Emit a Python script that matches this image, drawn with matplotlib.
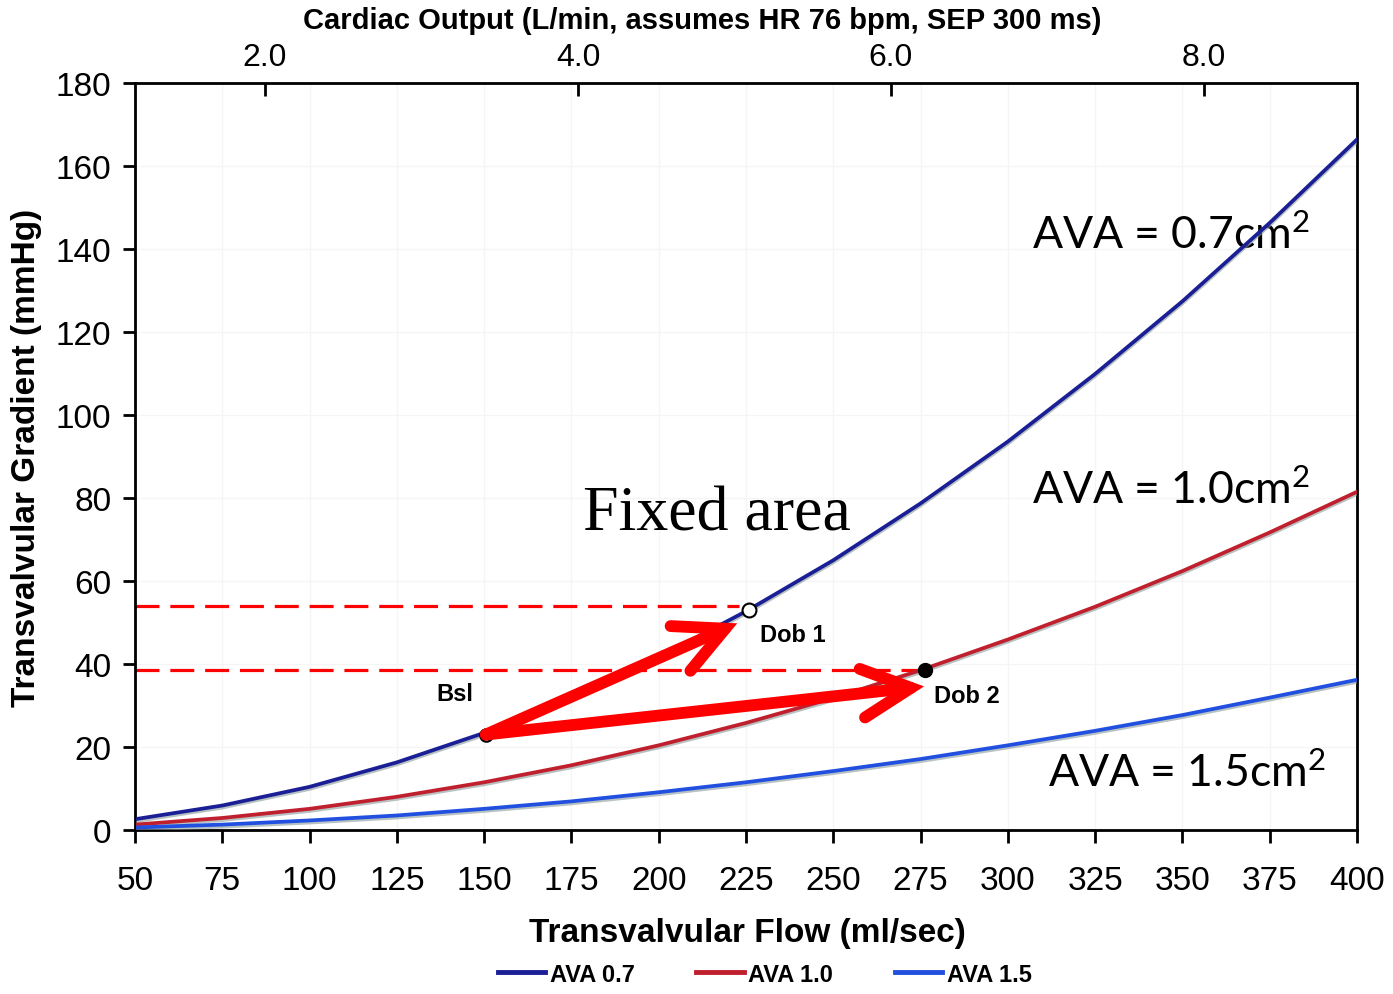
import matplotlib.pyplot as plt
import matplotlib.patheffects as pe
from matplotlib.lines import Line2D

# valores
flow = [50, 75, 100, 125, 150, 175, 200, 225, 250, 275, 300, 325, 350, 375, 400]
grad_07 = [2.6, 5.9, 10.4, 16.3, 23.4, 31.9, 41.6, 52.7, 65.0, 78.7, 93.6, 109.9, 127.4, 146.3, 166.4]
grad_10 = [1.3, 2.9, 5.1, 8.0, 11.5, 15.6, 20.4, 25.8, 31.8, 38.5, 45.9, 53.8, 62.4, 71.7, 81.5]
grad_15 = [0.6, 1.3, 2.3, 3.5, 5.1, 6.9, 9.1, 11.5, 14.2, 17.1, 20.4, 23.9, 27.7, 31.9, 36.2]

co_labels = ['2.0', '4.0', '6.0', '8.0']
co_flow = [87.2, 176.9, 266.5, 356.2]

bsl = (150.5, 23.0)
dob1 = (226.0, 53.0)
dob2 = (276.3, 38.5)
dob1_tip = (222.5, 49.8)
dob2_tip = (276.0, 34.6)
level1 = 54.0
level2 = 38.6

c07 = '#1b1f96'
c10 = '#c0202e'
c15 = '#2150e0'

plt.rcParams['font.family'] = 'Liberation Sans'
plt.rcParams['mathtext.fontset'] = 'custom'
plt.rcParams['mathtext.rm'] = 'Lato'
plt.rcParams['mathtext.it'] = 'Lato'

fig = plt.figure(figsize=(13.93, 9.95), dpi=100)
ax = fig.add_axes([135 / 1393, 1 - 831 / 995, 1222 / 1393, 747 / 995])
ax.set_axisbelow(True)

shadow = [pe.SimpleLineShadow(offset=(0, -1.5), shadow_color='#8a9a9a', alpha=0.6), pe.Normal()]
ax.plot(flow, grad_07, color=c07, lw=2.7, path_effects=shadow, zorder=3)
ax.plot(flow, grad_10, color=c10, lw=2.7, path_effects=shadow, zorder=3)
ax.plot(flow, grad_15, color=c15, lw=2.7, path_effects=shadow, zorder=3)

# lineas punteadas rojas
ax.plot([50, dob1[0] - 3], [level1, level1], color='red', lw=2.3, ls=(0, (7.5, 3.4)), zorder=2.5)
ax.plot([50, dob2[0] - 2], [level2, level2], color='red', lw=2.3, ls=(0, (7.5, 3.4)), zorder=2.5)

ax.plot(*bsl, 'o', ms=9, mfc='#c8c8c8', mec='black', mew=1.5, zorder=4)
ax.plot(*dob1, 'o', ms=10, mfc='white', mec='black', mew=1.5, zorder=4)
ax.plot(*dob2, 'o', ms=10, mfc='black', mec='black', zorder=4)

for tip in [dob1_tip, dob2_tip]:
    ax.annotate('', xy=tip, xytext=bsl,
                arrowprops=dict(arrowstyle='->,head_length=1.6,head_width=0.8',
                                color='red', lw=8.5, mutation_scale=22,
                                shrinkA=0, shrinkB=0, capstyle='round', joinstyle='miter'),
                zorder=5)

ax.text(141.5, 32.8, 'Bsl', fontsize=17, fontweight='bold', ha='center', va='center')
ax.text(238.5, 47.0, 'Dob 1', fontsize=17, fontweight='bold', ha='center', va='center')
ax.text(288.3, 32.5, 'Dob 2', fontsize=17, fontweight='bold', ha='center', va='center')

ax.text(216.7, 76.0, 'Fixed area', family='Liberation Serif', fontsize=46, ha='center', va='center', zorder=2)
ax.text(306.9, 143.5, 'AVA = 0.7cm$^2$', family='Lato', fontsize=32, ha='left', va='center', zorder=2)
ax.text(306.9, 82.0, 'AVA = 1.0cm$^2$', family='Lato', fontsize=32, ha='left', va='center', zorder=2)
ax.text(311.5, 13.8, 'AVA = 1.5cm$^2$', family='Lato', fontsize=32, ha='left', va='center', zorder=2)

ax.set_xlim(50, 400)
ax.set_ylim(0, 180)
ax.set_xticks(range(50, 401, 25))
ax.set_yticks(range(0, 181, 20))
ax.grid(True, color='#f5f5f5', lw=1)
ax.tick_params(axis='x', labelsize=24, width=2, length=9, pad=16)
ax.tick_params(axis='y', labelsize=24, width=2, length=9, pad=8)
for s in ax.spines.values():
    s.set_linewidth(2)

ax.set_xlabel('Transvalvular Flow (ml/sec)', fontsize=24, fontweight='bold')
ax.xaxis.set_label_coords(0.5008, -0.117)
ax.set_ylabel('Transvalvular Gradient (mmHg)', fontsize=24, fontweight='bold')
ax.yaxis.set_label_coords(-0.076, 0.5)

# eje superior: gasto cardiaco
ax2 = ax.twiny()
ax2.set_xlim(ax.get_xlim())
ax2.set_xticks(co_flow, co_labels)
ax2.tick_params(axis='x', labelsize=23, width=2, length=9, direction='in', pad=8)
ax2.set_xlabel('Cardiac Output (L/min, assumes HR 76 bpm, SEP 300 ms)', fontsize=21, fontweight='bold')
ax2.xaxis.set_label_coords(0.464, 1.073)

handles = [Line2D([], [], color=c07, lw=3.5), Line2D([], [], color=c10, lw=3.5), Line2D([], [], color=c15, lw=3.5)]
fig.legend(handles, ['AVA 0.7', 'AVA 1.0', 'AVA 1.5'], loc='lower center', bbox_to_anchor=(0.549, -0.013),
           ncol=3, frameon=False, prop={'weight': 'bold', 'size': 17},
           handlelength=2.0, handletextpad=0.2, columnspacing=2.6)

fig.savefig('out.png', dpi=100)
